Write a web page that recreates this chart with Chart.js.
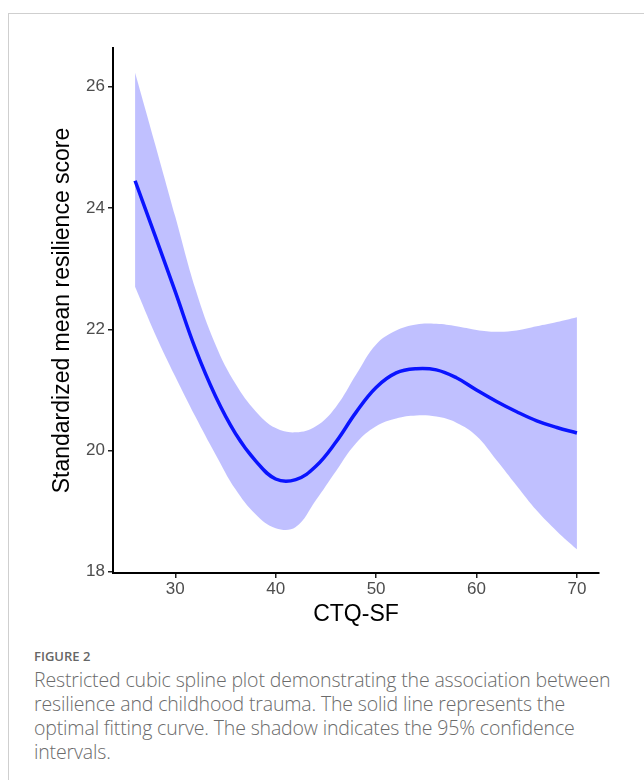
<!DOCTYPE html>
<html>
<head>
<meta charset="utf-8">
<script src="https://cdn.jsdelivr.net/npm/chart.js@4"></script>
<style>
  html, body { margin: 0; padding: 0; background: #fff; }
  body { width: 644px; height: 780px; position: relative; overflow: hidden; }
  .frame {
    position: absolute; left: 8px; top: 13px; width: 700px; height: 800px;
    border-left: 1px solid #cfcfcf; border-top: 1px solid #cfcfcf;
  }
  #wrap { position: absolute; left: 0; top: 0; width: 644px; height: 632px; }
  .caption {
    position: absolute; left: 34px; top: 647px; width: 596px;
    font-family: "Open Sans", sans-serif; color: #6b6b6b;
  }
  .caption .fig { font-size: 13px; font-weight: 600; color: #666; margin-bottom: 3px; }
  .caption .txt { font-size: 19.5px; line-height: 24px; font-weight: 300; letter-spacing: -0.15px; }
</style>
</head>
<body>
<div class="frame"></div>
<div id="wrap"><canvas id="myChart"></canvas></div>
<div class="caption">
  <div class="fig">FIGURE 2</div>
  <div class="txt">Restricted cubic spline plot demonstrating the association between resilience and childhood trauma. The solid line represents the optimal fitting curve. The shadow indicates the 95% confidence intervals.</div>
</div>
<script>
// CTQ-SF values (x) and curve
const ctq = [26, 28, 30, 32, 34, 36, 38, 40, 42, 44, 46, 48, 50, 52, 54, 56, 58, 60, 62, 64, 66, 68, 70];
const fitLine = [24.45, 23.54, 22.62, 21.68, 20.90, 20.28, 19.83, 19.53, 19.52, 19.74, 20.14, 20.63, 21.04, 21.28, 21.35, 21.33, 21.20, 21.00, 20.81, 20.64, 20.49, 20.38, 20.29];
const upperCI = [26.23, 25.05, 23.86, 22.67, 21.75, 21.10, 20.65, 20.37, 20.30, 20.40, 20.72, 21.25, 21.75, 21.98, 22.08, 22.09, 22.05, 21.99, 21.96, 21.98, 22.05, 22.12, 22.20];
const lowerCI = [22.70, 21.92, 21.22, 20.56, 19.94, 19.36, 18.95, 18.72, 18.74, 19.18, 19.66, 20.12, 20.40, 20.53, 20.58, 20.56, 20.46, 20.24, 19.84, 19.42, 19.01, 18.67, 18.37];

const xTicks = [30, 40, 50, 60, 70];
const yTicks = [18, 20, 22, 24, 26];

const pts = (ys) => ctq.map((x, i) => ({ x: x, y: ys[i] }));

const ctx = document.getElementById('myChart');
const canvasH = 632;
ctx.width = 644;
ctx.height = canvasH;
ctx.style.width = '644px';
ctx.style.height = canvasH + 'px';

const tickFont = { family: 'Liberation Sans, Arial, sans-serif', size: 17 };
const titleFont = { family: 'Liberation Sans, Arial, sans-serif', size: 23 };

new Chart(ctx, {
    type: 'line',
    data: {
        datasets: [
            {
                label: 'upper',
                data: pts(upperCI),
                borderWidth: 0,
                pointRadius: 0,
                fill: '+1',
                backgroundColor: 'rgba(64, 64, 255, 0.33)',
                tension: 0.4,
                order: 2
            },
            {
                label: 'lower',
                data: pts(lowerCI),
                borderWidth: 0,
                pointRadius: 0,
                fill: false,
                tension: 0.4,
                order: 2
            },
            {
                label: 'fit',
                data: pts(fitLine),
                borderColor: '#0a14ff',
                borderWidth: 3.5,
                pointRadius: 0,
                fill: false,
                tension: 0.4,
                order: 1
            }
        ]
    },
    options: {
        responsive: false,
        animation: false,
        layout: { padding: { left: 45, top: 48, right: 45, bottom: 0 } },
        plugins: {
            legend: { display: false },
            tooltip: { enabled: false }
        },
        scales: {
            x: {
                type: 'linear',
                min: 23.8,
                max: 72.2,
                afterBuildTicks: (scale) => { scale.ticks = xTicks.map(v => ({ value: v })); },
                afterFit: (scale) => { scale.height = canvasH - 573; },
                grid: { drawOnChartArea: false, drawTicks: true, tickLength: 5, color: '#222', lineWidth: 1.5 },
                border: { display: true, color: '#000', width: 2 },
                ticks: { font: tickFont, color: '#4d4d4d', padding: 1, maxRotation: 0 },
                title: { display: true, text: 'CTQ-SF', font: titleFont, color: '#000', padding: { top: 0, bottom: 4 } }
            },
            y: {
                type: 'linear',
                min: 17.98,
                max: 26.64,
                afterBuildTicks: (scale) => { scale.ticks = yTicks.map(v => ({ value: v })); },
                afterFit: (scale) => { scale.width = 113 - 45; },
                grid: { drawOnChartArea: false, drawTicks: true, tickLength: 5, color: '#222', lineWidth: 1.5 },
                border: { display: true, color: '#000', width: 2 },
                ticks: { font: tickFont, color: '#4d4d4d', padding: 3 },
                title: { display: true, text: 'Standardized mean resilience score', font: titleFont, color: '#000', padding: { top: 4, bottom: 0 } }
            }
        }
    }
});
</script>
</body>
</html>
